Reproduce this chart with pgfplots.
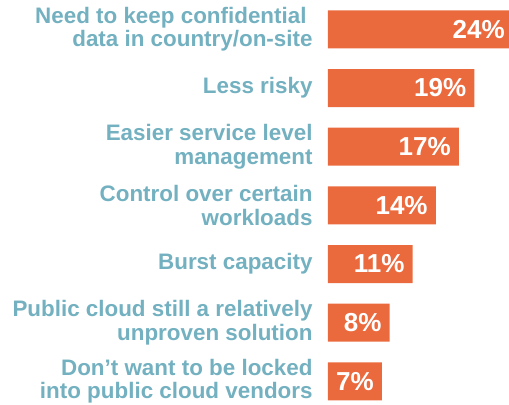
\documentclass[border=0pt]{standalone}
\usepackage{pgfplots}
\pgfplotsset{compat=1.18}
\usetikzlibrary{calc}
\usepackage{fontspec}
\setmainfont{Liberation Sans}
\definecolor{barorange}{RGB}{235,106,61}
\definecolor{labelteal}{RGB}{115,176,192}
\begin{document}
\begin{tikzpicture}
\begin{axis}[
  name=ax,
  scale only axis,
  width=181pt, height=390.7pt,
  xbar, bar width=38pt,
  xmin=0, xmax=23.5,
  ymin=-0.33, ymax=6.33,
  y dir=reverse,
  clip=false,
  /pgf/number format/assume math mode=true,
  axis line style={draw=none},
  tick style={draw=none},
  xtick=\empty,
  ytick={0,1,2,3,4,5,6},
  yticklabels={{Need to keep confidential\kern6pt\\data in country/on-site},
               {Less risky},
               {Easier service level\\management},
               {Control over certain\\workloads},
               {Burst capacity},
               {Public cloud still a relatively\\unproven solution},
               {Don’t want to be locked\\into public cloud vendors}},
  yticklabel style={align=right, anchor=east, inner sep=0pt, xshift=-11pt,
    text=labelteal, font=\fontsize{22.4}{23.5}\selectfont\bfseries},
  nodes near coords={\pgfmathprintnumber{\pgfplotspointmeta}\%},
  nodes near coords style={anchor=east, xshift=-8pt, text=white, inner sep=0pt,
    font=\fontsize{26}{28}\selectfont\bfseries},
]
\addplot[fill=barorange, draw=none] coordinates {
  (24,0) (19,1) (17,2) (14,3) (11,4) (8,5) (7,6)
};
\end{axis}
\pgfresetboundingbox
\useasboundingbox ($(ax.south west)+(-328pt,-4pt)$) rectangle ($(ax.north east)+(0pt,10pt)$);
\end{tikzpicture}
\end{document}
